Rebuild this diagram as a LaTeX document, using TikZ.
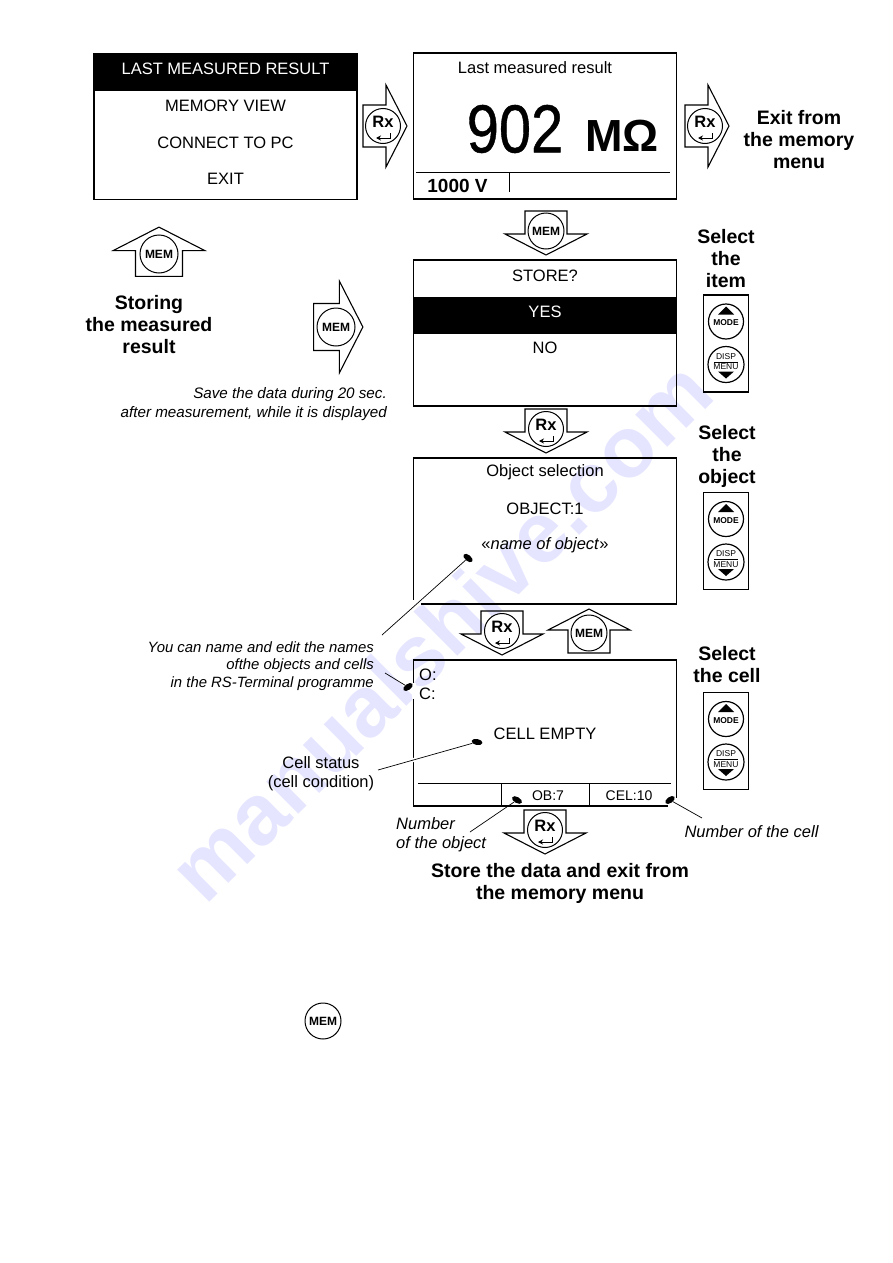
\documentclass[tikz,border=0pt]{standalone}
\usepackage{fontspec}
\setmainfont{Liberation Sans}
\newfontfamily\valuefont[FakeBold=0.7]{Liberation Sans}
\usetikzlibrary{arrows.meta, positioning, shapes.geometric}

\tikzset{
    screenbox/.style={draw, rectangle, line width=1.1pt, minimum width=263pt, minimum height=146pt, outer sep=0pt},
    screenband/.style={fill=black, rectangle, minimum width=263pt, minimum height=37pt},
    screentext/.style={font=\fontsize{16.5}{19}\selectfont, inner sep=0pt, yshift=-0.7pt},
    headtext/.style={font=\fontsize{19.5}{22}\selectfont\bfseries, align=center, inner sep=0pt},
    notetext/.style={font=\fontsize{14.9}{17.5}\selectfont\itshape, inner sep=0pt},
    calloutline/.style={line width=0.7pt, preaction={draw, white, line width=4pt}},
    gapline/.style={draw=white, line width=3.5pt},
    blob/.style={ellipse, fill=black, minimum width=11pt, minimum height=6pt, inner sep=0pt},
    keycircle/.style={draw, circle, line width=1pt, inner sep=0pt},
    keyarrow/.pic={
        \draw[line width=1.1pt] (-20,-21) -- (3,-21) -- (3,-41) -- (24,0) -- (3,41) -- (3,21) -- (-20,21) -- cycle;
    },
    rxkey/.pic={
        \node (-c) [keycircle, fill=white, minimum size=35pt] {};
        \node (-t) [inner sep=0pt, font=\fontsize{16.5}{18}\selectfont\bfseries] at (0,-4) {Rx};
        \draw[-{Stealth[length=5pt, width=5pt]}, line width=0.9pt] (7,7) -- (7,12) -- (-7,12);
    },
    memkey/.pic={
        \node (-c) [keycircle, fill=white, minimum size=#1pt, font=\fontsize{12}{14}\selectfont\bfseries] {MEM};
    },
    modepanel/.pic={
        \draw[line width=1.1pt] (-22.5,-48.5) rectangle (22.5,48.5);
        \node (-m) [keycircle, line width=1.2pt, minimum size=35pt] at (0,-22) {};
        \node (-d) [keycircle, line width=1.2pt, minimum size=36pt] at (0,21) {};
        \node (-mt) [inner sep=0pt, font=\fontsize{8.5}{10}\selectfont\bfseries] at (0,-20.5) {MODE};
        \node (-dt) [inner sep=0pt, font=\fontsize{8.5}{10}\selectfont] at (0,13) {DISP};
        \node (-dm) [inner sep=0pt, font=\fontsize{8.5}{10}\selectfont] at (0,23.5) {MENU};
        \draw[line width=0.7pt] (-12,18.5) -- (12,18.5);
        \fill (0,-37) -- (8,-29) -- (-8,-29) -- cycle;
        \fill (0,35) -- (8,28) -- (-8,28) -- cycle;
    }
}

\begin{document}
\begin{tikzpicture}[x=1pt, y=-1pt, node distance=37pt]

    \useasboundingbox (0,0) rectangle (893,1263);

    % Watermark behind everything
    \node (watermark) [rotate=44.8, anchor=base, inner sep=0pt, text=blue!10, font=\fontsize{86}{100}\selectfont\bfseries] at (462,652) {manualshive.com};

    % Top row of screens
    \node (menubox) [screenbox] at (225.5,126.5) {};
    \node (lastband) [screenband, below=0pt of menubox.north] {};
    \node (lastresult) [screentext, text=white] at (225.5,68) {LAST MEASURED RESULT};
    \node (memoryview) [screentext] at (225.5,105) {MEMORY VIEW};
    \node (connectpc) [screentext] at (225.5,142) {CONNECT TO PC};
    \node (exititem) [screentext] at (225.5,178) {EXIT};

    \node (resultbox) [screenbox] at (545,126) {};
    \node (resulttitle) [screentext] at (535,67) {Last measured result};
    \node (value) [inner sep=0pt, font=\fontsize{68}{80}\valuefont] at (515,129) {\scalebox{0.85}[1]{902}};
    \node (unit) [inner sep=0pt, font=\fontsize{45}{50}\selectfont\bfseries] at (622,136) {MΩ};
    \node (voltage) [inner sep=0pt, font=\fontsize{19}{22}\selectfont\bfseries] at (457.5,186) {1000 V};
    \coordinate (resultL) at (416,172);
    \coordinate (resultR) at (670,172);
    \coordinate (resultT) at (509,172);
    \coordinate (resultB) at (509,192);
    \draw[line width=0.8pt] (resultL) -- (resultR);
    \draw[line width=0.8pt] (resultT) -- (resultB);

    \pic at (383,126) {keyarrow};
    \pic (rxa) at (383,126) {rxkey};
    \pic at (705,126) {keyarrow};
    \pic (rxb) at (705,126) {rxkey};
    \node (exitnote) [headtext] at (799,140) {Exit from\\the memory\\menu};

    % Store question
    \pic[rotate=-90] at (546,231) {keyarrow};
    \pic (mema) at (546,231) {memkey=36};
    \node (storebox) [screenbox] at (545,333) {};
    \node (storeq) [screentext] at (545,275) {STORE?};
    \node (yesband) [screenband] at (545,315) {};
    \node (yesitem) [screentext, text=white] at (545,311) {YES};
    \node (noitem) [screentext] at (545,347) {NO};
    \node (selitem) [headtext] at (726,259) {Select\\the\\item};
    \pic (panela) at (726,343.5) {modepanel};

    % Storing on the left
    \pic[rotate=90, scale=1.12] at (159,254) {keyarrow};
    \pic (memb) at (159,254) {memkey=38};
    \node (storingnote) [headtext] at (149,325) {Storing\\the measured\\result};
    \pic[scale=1.12] at (336,327) {keyarrow};
    \pic (memc) at (336,327) {memkey=38};
    \node (savenote) [notetext, font=\fontsize{15.2}{19}\selectfont\itshape, align=right, anchor=east] at (387,404) {Save the data during 20 sec.\\after measurement, while it is displayed};

    % Object selection
    \pic[rotate=-90] at (546,429) {keyarrow};
    \pic (rxc) at (546,429) {rxkey};
    \node (objectbox) [screenbox] at (545,531) {};
    \node (objecttitle) [screentext] at (545,472) {Object selection};
    \node (objectnum) [screentext] at (545,508) {OBJECT:1};
    \node (objectname) [screentext] at (545,545) {«\textit{name of object}»};
    \node (selobject) [headtext] at (727,456) {Select\\the\\object};
    \pic (panelb) at (726,541) {modepanel};

    % Cell screen
    \pic[rotate=-90] at (502,631) {keyarrow};
    \pic (rxd) at (502,631) {rxkey};
    \pic[rotate=90] at (589,633) {keyarrow};
    \pic (memd) at (589,633) {memkey=36};
    \node (cellbox) [screenbox] at (545,733) {};
    \node (objlabel) [screentext, anchor=west] at (419,674) {O:};
    \node (celllabel) [screentext, anchor=west] at (419,693) {C:};
    \node (cellempty) [screentext] at (545,733) {CELL EMPTY};
    \node (obnum) [screentext, font=\fontsize{14}{16}\selectfont] at (548,795) {OB:7};
    \node (celnum) [screentext, font=\fontsize{14}{16}\selectfont] at (629,795) {CEL:10};
    \coordinate (cellL) at (418,783);
    \coordinate (cellR) at (671,783);
    \coordinate (cellA) at (501,783);
    \coordinate (cellB) at (501,806);
    \coordinate (cellC) at (589,783);
    \coordinate (cellD) at (589,806);
    \draw[line width=0.8pt] (cellL) -- (cellR);
    \draw[line width=0.8pt] (cellA) -- (cellB);
    \draw[line width=0.8pt] (cellC) -- (cellD);
    \node (selcell) [headtext] at (727,665) {Select\\the cell};
    \pic (panelc) at (726,741) {modepanel};

    \pic[rotate=-90] at (545,830) {keyarrow};
    \pic (rxe) at (545,830) {rxkey};
    \node (finalnote) [headtext] at (560,883) {Store the data and exit from\\the memory menu};

    % Notes and their pointers
    \node (namesnote) [notetext, align=right, anchor=east] at (374,666) {You can name and edit the names\\ofthe objects and cells\\in the RS-Terminal programme};
    \node (statusnote) [screentext, align=center] at (321,773) {Cell status\\(cell condition)};
    \node (numobject) [notetext, font=\fontsize{16.5}{19}\selectfont\itshape, align=left, anchor=west] at (396,835) {Number\\of the object};
    \node (numcell) [notetext, font=\fontsize{16.5}{19}\selectfont\itshape] at (751.5,832) {Number of the cell};

    % Frame gaps where the pointers come in
    \coordinate (gapA) at (413.5,600);
    \coordinate (gapB) at (413.5,604);
    \coordinate (gapC) at (421,604);
    \coordinate (gapD) at (414,683);
    \coordinate (gapE) at (414,699);
    \coordinate (gapF) at (676.5,798);
    \coordinate (gapG) at (676.5,806);
    \coordinate (gapH) at (668,806);
    \draw[gapline] (gapA) -- (gapB) -- (gapC);
    \draw[gapline] (gapD) -- (gapE);
    \draw[gapline] (gapF) -- (gapG) -- (gapH);

    \node (blobname) [blob, rotate=-40] at (468,558) {};
    \node (blobother) [blob, rotate=35] at (408,687) {};
    \node (blobstatus) [blob, rotate=-10] at (477,742) {};
    \node (blobnumobj) [blob, rotate=-30] at (517,800) {};
    \node (blobnumcell) [blob, rotate=35] at (670,800) {};
    \coordinate (nameA) at (382,635);
    \coordinate (nameB) at (385,673);
    \coordinate (statusA) at (378,770);
    \coordinate (objA) at (470,832);
    \coordinate (cellN) at (702,818);
    \draw[calloutline] (nameA) -- (blobname);
    \draw[line width=0.7pt] (nameB) -- (blobother);
    \draw[calloutline] (statusA) -- (blobstatus);
    \draw[line width=0.7pt] (objA) -- (blobnumobj);
    \draw[line width=0.7pt] (cellN) -- (blobnumcell);

    % Key on its own further down
    \pic (meme) at (323,1021) {memkey=36};

\end{tikzpicture}
\end{document}
